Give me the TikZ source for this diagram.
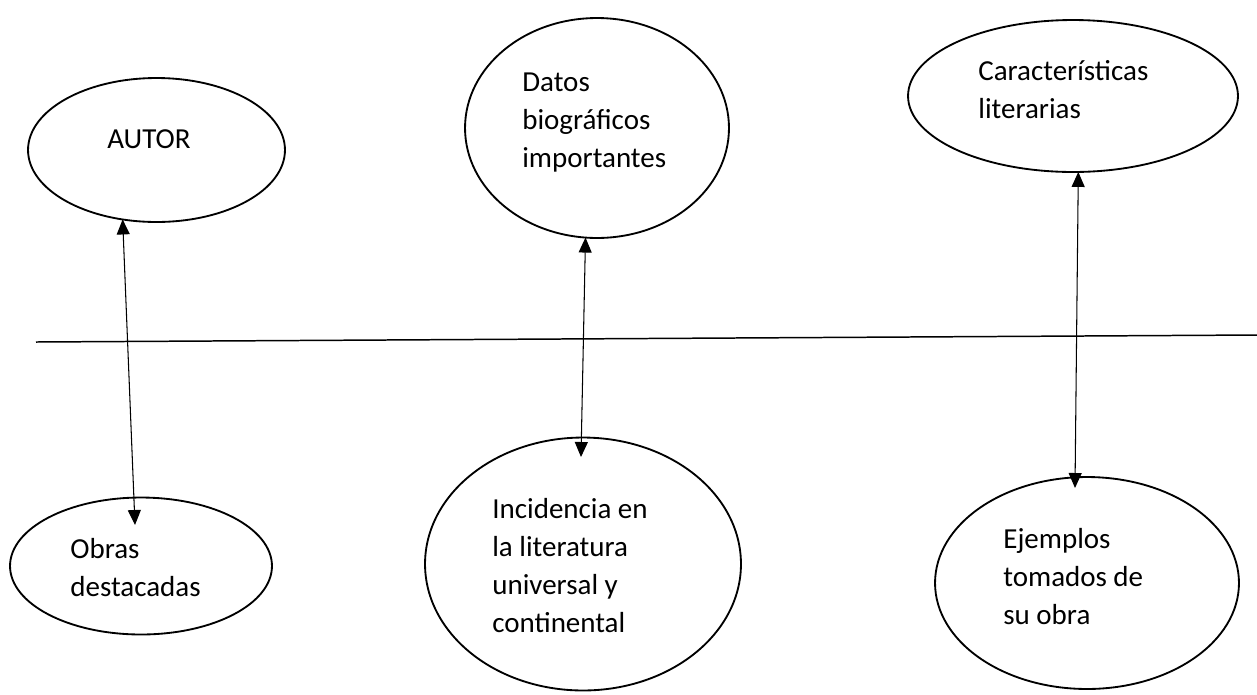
\documentclass[tikz,border=0pt]{standalone}
\usepackage{fontspec}
\setmainfont{Carlito}
\usetikzlibrary{shapes.geometric,arrows.meta}

\begin{document}
\begin{tikzpicture}[
            x=0.02cm, y=-0.02cm,
            bubble/.style={ellipse, draw, line width=1.05pt, inner sep=0pt, outer sep=0pt},
            txt/.style={anchor=base west, align=left, inner sep=0pt, font=\fontsize{16.5}{21.6}\selectfont},
            link/.style={{Triangle[length=3mm,width=2.6mm]}-{Triangle[length=3mm,width=2.6mm]}, line width=0.6pt}
        ]
            \useasboundingbox (0,0) rectangle (1257,694);

            % ellipses
            \node[bubble, minimum width=5.14cm, minimum height=2.88cm] (autor) at (156.5,150) {};
            \node[bubble, minimum width=5.28cm, minimum height=4.4cm] (datos) at (597,128) {};
            \node[bubble, minimum width=6.6cm, minimum height=3.04cm] (caract) at (1073,96) {};
            \node[bubble, minimum width=5.24cm, minimum height=2.74cm] (obras) at (141,566) {};
            \node[bubble, minimum width=6.32cm, minimum height=5.06cm] (incid) at (583,564) {};
            \node[bubble, minimum width=6.08cm, minimum height=4.24cm] (ejem) at (1087,583) {};

            % texts (base = last line)
            \node[txt] (autortxt) at (107,148) {AUTOR};
            \node[txt] (datostxt) at (522,167) {Datos\\biográficos\\importantes};
            \node[txt] (caracttxt) at (978,118) {Características\\literarias};
            \node[txt] (obrastxt) at (70,596) {Obras\\destacadas};
            \node[txt] (incidtxt) at (492,632) {Incidencia en\\la literatura\\universal y\\continental};
            \node[txt] (ejemtxt) at (1003,624) {Ejemplos\\tomados de\\su obra};

            % line across
            \coordinate (lineL) at (36,342);
            \coordinate (lineR) at (1257,335);
            \draw[line width=0.85pt] (lineL) -- (lineR);

            \draw[link] (autor.244) -- ([shift={(-6,-41)}]obras.center);
            \draw[link] (datos.264) -- ([shift={(-2,-107)}]incid.center);
            \draw[link] (caract.274) -- ([shift={(-12,-95)}]ejem.center);
        \end{tikzpicture}
\end{document}
